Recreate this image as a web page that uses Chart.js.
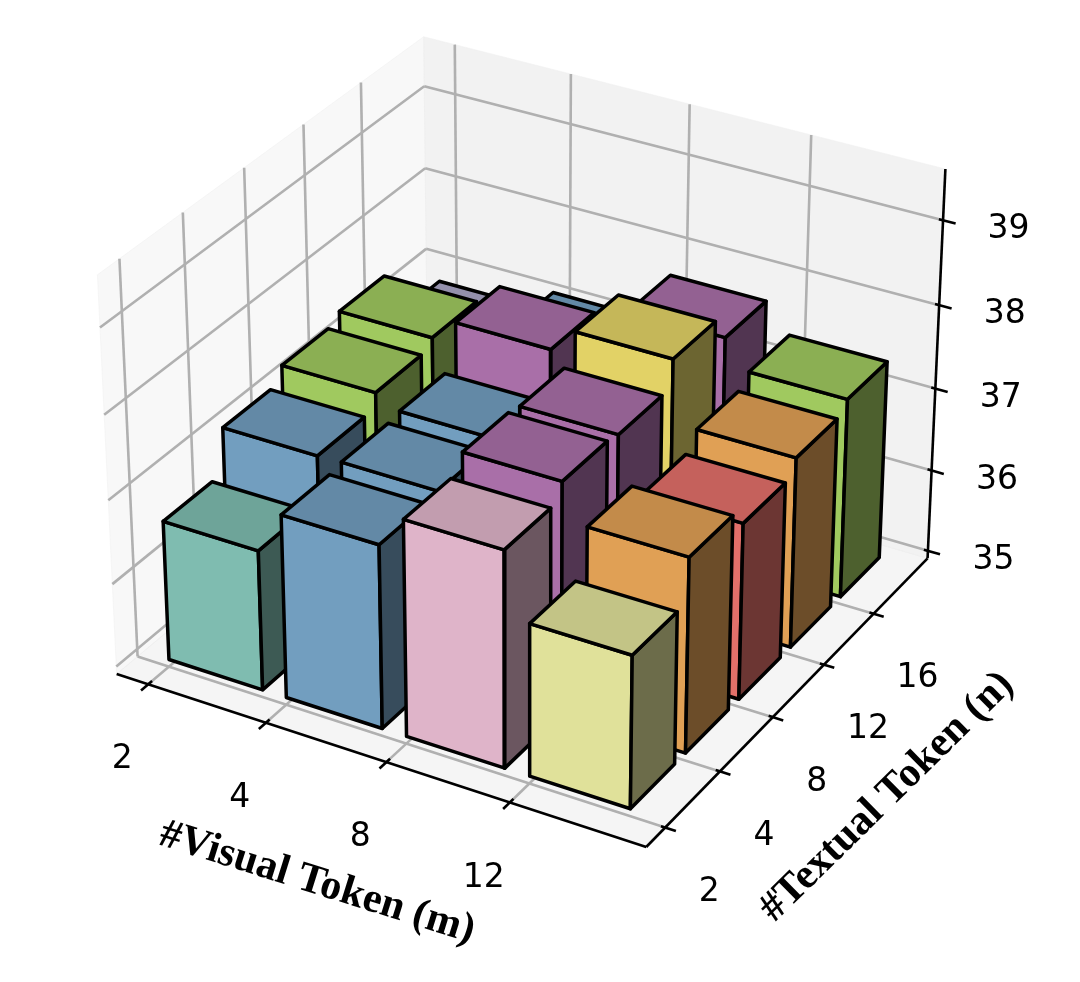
<!DOCTYPE html>
<html><head><meta charset="utf-8">
<style>html,body{margin:0;padding:0;background:#fff}canvas{display:block}</style>
<script src="https://cdn.jsdelivr.net/npm/chart.js@4"></script>
</head><body><canvas id="c" width="1080" height="982"></canvas>
<script>
// ---- data ----
const visualTokens = ['2','4','8','12'];
const textualTokens = ['2','4','8','12','16'];
const zTicks = [35,36,37,38,39];
const rowN2  = [36.67,37.18,37.56,36.8];
const rowN4  = [37.2, 37.21,37.75,37.31];
const rowN8  = [37.38,37.24,37.71,37.1];
const rowN12 = [37.48,37.74,38.03,37.28];
const rowN16 = [36.88,37.13,37.73,37.4];
const rows = [rowN2,rowN4,rowN8,rowN12,rowN16];
const colourN2  = ['#7FBCB0','#729EBF','#DFB4C9','#E0E19A'];
const colourN4  = ['#729EBF','#729EBF','#A96FA8','#E0A055'];
const colourN8  = ['#A0C95F','#729EBF','#A96FA8','#E2706A'];
const colourN12 = ['#A0C95F','#A96FA8','#E2D266','#E0A055'];
const colourN16 = ['#AAA6C6','#729EBF','#A96FA8','#A0C95F'];
const colours = [colourN2,colourN4,colourN8,colourN12,colourN16];
const xLim=[-0.21,3.965], yLim=[-0.21,5.04], zLim=[35,39.5];
const barW=0.8, xTickShift=-0.025, yTickShift=0.02, barShiftX=-0.02, barShiftY=0.015;
// ---- matplotlib-style 3D camera, elev 30, azim -60, dist 10 ----
const rad=Math.PI/180, el=30*rad, az=-60*rad;
const n=[Math.cos(el)*Math.cos(az),Math.cos(el)*Math.sin(az),Math.sin(el)];
const un=Math.hypot(n[1],n[0]);
const u=[-n[1]/un,n[0]/un,0];
const v=[n[1]*u[2]-n[2]*u[1],n[2]*u[0]-n[0]*u[2],n[0]*u[1]-n[1]*u[0]];
const norm=1.8294640721620434/Math.hypot(4,4,3), box=[4*norm,4*norm,3*norm];
const SCALE=5096, CX=529.6, CY=422.4;
const dot=(p,q)=>p[0]*q[0]+p[1]*q[1]+p[2]*q[2];
function project(x,y,z){
  const d=[((x-xLim[0])/(xLim[1]-xLim[0])-.5)*box[0],((y-yLim[0])/(yLim[1]-yLim[0])-.5)*box[1],((z-zLim[0])/(zLim[1]-zLim[0])-.5)*box[2]];
  const D=10-dot(n,d);
  return {x:CX+SCALE*dot(u,d)/D,y:CY-SCALE*dot(v,d)/D};
}
const ex=(xLim[1]-xLim[0])/48, ey=(yLim[1]-yLim[0])/48, ez=(zLim[1]-zLim[0])/48;
const X0=xLim[0]-ex,X1=xLim[1]+ex,Y0=yLim[0]-ey,Y1=yLim[1]+ey,Z0=zLim[0]-ez,Z1=zLim[1]+ez;
const ds=[];
function poly(pts,fill,stroke,w){
  const data=pts.map(p=>project(...p));
  data.push({...data[0]},{...data[1]});
  ds.push({data,polyFill:fill,borderColor:stroke,borderWidth:w,showLine:true,pointRadius:0,tension:0,borderJoinStyle:'round',clip:false});
}
function seg(p,q,color,w){
  ds.push({data:[project(...p),project(...q)],borderColor:color,borderWidth:w,showLine:true,pointRadius:0,tension:0,borderCapStyle:'butt',clip:false});
}
// panes
const pe='rgba(240,240,240,.5)';
poly([[X0,Y0,Z0],[X0,Y1,Z0],[X0,Y1,Z1],[X0,Y0,Z1]],'rgba(242,242,242,.5)',pe,1);
poly([[X0,Y1,Z0],[X1,Y1,Z0],[X1,Y1,Z1],[X0,Y1,Z1]],'rgba(229,229,229,.5)',pe,1);
poly([[X0,Y0,Z0],[X1,Y0,Z0],[X1,Y1,Z0],[X0,Y1,Z0]],'rgba(235,235,235,.5)',pe,1);
// grid
const grid='#b0b0b0', gw=2.6;
const xt=i=>i+xTickShift, yt=i=>i+yTickShift;
visualTokens.forEach((_,i)=>{seg([xt(i),Y0,Z0],[xt(i),Y1,Z0],grid,gw);seg([xt(i),Y1,Z0],[xt(i),Y1,Z1],grid,gw);});
textualTokens.forEach((_,i)=>{seg([X1,yt(i),Z0],[X0,yt(i),Z0],grid,gw);seg([X0,yt(i),Z0],[X0,yt(i),Z1],grid,gw);});
zTicks.forEach(t=>{seg([X0,Y0,t],[X0,Y1,t],grid,gw);seg([X0,Y1,t],[X1,Y1,t],grid,gw);});
// axes and ticks
const ink='#000', aw=2.6;
seg([X0,Y0,Z0],[X1,Y0,Z0],ink,aw);
seg([X1,Y0,Z0],[X1,Y1,Z0],ink,aw);
seg([X1,Y1,Z0],[X1,Y1,Z1],ink,aw);
const xrng=xLim[1]-xLim[0], yrng=yLim[1]-yLim[0];
visualTokens.forEach((_,i)=>seg([xt(i),Y0-.022*yrng,Z0],[xt(i),Y0+.012*yrng,Z0],ink,aw));
textualTokens.forEach((_,i)=>seg([X1-.008*xrng,yt(i),Z0],[X1+.02*xrng,yt(i),Z0],ink,aw));
zTicks.forEach(t=>seg([X1-.008*xrng,Y1,t],[X1+.024*xrng,Y1,t],ink,aw));
// bars, back to front
function shade(hex,f){const c=[1,3,5].map(i=>Math.round(parseInt(hex.substr(i,2),16)*f));return `rgb(${c})`;}
const bw=3.5;
for(let r=rows.length-1;r>=0;r--){
  rows[r].forEach((h,c)=>{
    const col=colours[r][c], x0=c+barShiftX,x1=x0+barW,y0=r+barShiftY,y1=y0+barW,z0=zLim[0];
    poly([[x0,y0,z0],[x1,y0,z0],[x1,y0,h],[x0,y0,h]],col,ink,bw);
    poly([[x1,y0,z0],[x1,y1,z0],[x1,y1,h],[x1,y0,h]],shade(col,.48),ink,bw);
    poly([[x0,y0,h],[x1,y0,h],[x1,y1,h],[x0,y1,h]],shade(col,.87),ink,bw);
  });
}
ds.forEach((d,i)=>d.order=ds.length-i);
// text placed from the projected tick positions
const tickFont='33px "DejaVu Sans"', titleFont='bold 42px "Liberation Serif"';
const polyPlugin={id:'poly',
 beforeDatasetDraw(chart,{meta,index}){
  const d=chart.data.datasets[index];
  if(!d.polyFill) return;
  const ctx=chart.ctx;ctx.save();ctx.beginPath();
  const pts=meta.data.slice(0,-2);
  pts.forEach((p,i)=>i?ctx.lineTo(p.x,p.y):ctx.moveTo(p.x,p.y));
  ctx.closePath();ctx.fillStyle=d.polyFill;ctx.fill();ctx.restore();
 },
 afterDraw(chart){
  const ctx=chart.ctx,sx=chart.scales.x,sy=chart.scales.y;
  const put=(t,p,dx,dy,f,rot)=>{ctx.save();ctx.translate(sx.getPixelForValue(p.x)+dx,sy.getPixelForValue(p.y)+dy);ctx.rotate((rot||0)*rad);ctx.font=f;ctx.fillStyle='#000';ctx.textAlign='center';ctx.textBaseline='middle';ctx.fillText(t,0,0);ctx.restore();};
  visualTokens.forEach((t,i)=>put(t,project(xt(i),Y0,Z0),-26,75.5,tickFont));
  textualTokens.forEach((t,i)=>put(t,project(X1,yt(i),Z0),44,65,tickFont));
  zTicks.forEach(t=>put(String(t),project(X1,Y1,t),65.5,9.5,tickFont));
  put('#Visual Token (m)',{x:317,y:883},0,0,titleFont,17.5);
  put('#Textual Token (n)',{x:887,y:797},0,0,titleFont,-44.5);
 }};
new Chart(document.getElementById('c'),{type:'scatter',data:{datasets:ds},plugins:[polyPlugin],
 options:{responsive:false,animation:false,events:[],layout:{padding:0},
  plugins:{legend:{display:false},tooltip:{enabled:false},title:{display:false}},
  scales:{x:{type:'linear',display:false,min:0,max:1080},y:{type:'linear',display:false,min:0,max:982,reverse:true}}}});
</script></body></html>
